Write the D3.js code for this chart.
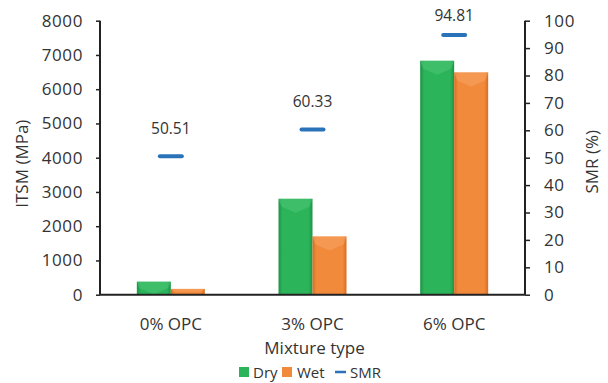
<!DOCTYPE html>
<html>
<head>
<meta charset="utf-8">
<script src="https://cdn.jsdelivr.net/npm/d3@7"></script>
<style>
  html, body { margin: 0; padding: 0; background: #fff; }
  svg { display: block; font-family: "Open Sans", "Liberation Sans", sans-serif; }
</style>
</head>
<body>
<svg id="chart" width="608" height="383"></svg>
<script>
const categories = ["0% OPC", "3% OPC", "6% OPC"];
const dryValues = [380, 2800, 6830];
const wetValues = [170, 1700, 6490];
const smrValues = [50.51, 60.33, 94.81];
const leftTicks = [0, 1000, 2000, 3000, 4000, 5000, 6000, 7000, 8000];
const rightTicks = [0, 10, 20, 30, 40, 50, 60, 70, 80, 90, 100];
const seriesNames = ["Dry", "Wet", "SMR"];

const W = 608, H = 383;
const margin = { top: 20.7, right: 83, bottom: 88.3, left: 100 };
const iw = W - margin.left - margin.right;
const ih = H - margin.top - margin.bottom;

const svg = d3.select("#chart");
const defs = svg.append("defs");

function barGradient(id, edge, mid) {
  const g = defs.append("linearGradient").attr("id", id)
    .attr("x1", "0%").attr("x2", "100%").attr("y1", "0%").attr("y2", "0%");
  g.append("stop").attr("offset", "0%").attr("stop-color", edge);
  g.append("stop").attr("offset", "12%").attr("stop-color", mid);
  g.append("stop").attr("offset", "88%").attr("stop-color", mid);
  g.append("stop").attr("offset", "100%").attr("stop-color", edge);
}
barGradient("gDry", "#1c9447", "#2cb45a");
barGradient("gWet", "#d86d24", "#f28a3c");

const g = svg.append("g").attr("transform", `translate(${margin.left},${margin.top})`);

const x0 = d3.scaleBand().domain(categories).range([0, iw])
  .paddingInner(0.52).paddingOuter(0.26);
const x1 = d3.scaleBand().domain(["Dry", "Wet"]).range([0, x0.bandwidth()]);
const yL = d3.scaleLinear().domain([0, 8000]).range([ih, 0]);
const yR = d3.scaleLinear().domain([0, 100]).range([ih, 0]);

const rows = categories.map((c, i) => ({ c, dry: dryValues[i], wet: wetValues[i], smr: smrValues[i] }));

const series = [
  { key: "Dry", vals: dryValues, fill: "url(#gDry)", top: "#4fc777" },
  { key: "Wet", vals: wetValues, fill: "url(#gWet)", top: "#f7a564" }
];

series.forEach(s => {
  const grp = g.append("g");
  categories.forEach((c, i) => {
    const bx = x0(c) + x1(s.key);
    const bw = x1.bandwidth();
    const by = yL(s.vals[i]);
    const bh = ih - by;
    grp.append("rect").attr("x", bx).attr("y", by).attr("width", bw).attr("height", bh)
      .attr("fill", s.fill);
    const bev = Math.min(8, bh / 2);
    const tip = by + bev + 6 > by + bh ? by + bev : by + bev + 6;
    grp.append("path")
      .attr("d", `M${bx},${by}L${bx + bw},${by}L${bx + bw - 3},${by + bev}L${bx + bw / 2},${tip}L${bx + 3},${by + bev}Z`)
      .attr("fill", s.top).attr("opacity", 0.55);
  });
});

// SMR dashes and labels
const dashW = 22;
rows.forEach(r => {
  const cx = x0(r.c) + x0.bandwidth() / 2;
  g.append("line")
    .attr("x1", cx - dashW / 2).attr("x2", cx + dashW / 2)
    .attr("y1", yR(r.smr)).attr("y2", yR(r.smr))
    .attr("stroke", "#2a73b8").attr("stroke-width", 4).attr("stroke-linecap", "round");
  g.append("text")
    .attr("x", cx).attr("y", Math.max(yR(r.smr) - 22, 0))
    .attr("text-anchor", "middle")
    .attr("font-size", 15.5).attr("fill", "#333")
    .text(r.smr.toFixed(2));
});

// Axes
const axisColor = "#222";
const leftAxis = g.append("g").call(d3.axisLeft(yL).tickValues(leftTicks).tickFormat(d3.format("d")).tickSize(4).tickPadding(13));
const rightAxis = g.append("g").attr("transform", `translate(${iw},0)`)
  .call(d3.axisRight(yR).tickValues(rightTicks).tickFormat(d3.format("d")).tickSize(5).tickPadding(14));
const bottomAxis = g.append("g").attr("transform", `translate(0,${ih})`)
  .call(d3.axisBottom(x0).tickSize(0).tickPadding(23));

[leftAxis, rightAxis, bottomAxis].forEach(a => {
  a.selectAll(".domain").attr("stroke", axisColor).attr("stroke-width", 2);
  a.selectAll(".tick line").attr("stroke", axisColor).attr("stroke-width", 1.5);
  a.selectAll("text").attr("fill", "#333").attr("font-family", "'Open Sans', sans-serif").attr("font-size", 17);
});
leftAxis.select(".domain").attr("d", `M0,${ih}V0`);
rightAxis.select(".domain").attr("d", `M0,${ih}V0`);
bottomAxis.select(".domain").attr("d", `M0,0H${iw}`);
leftAxis.selectAll("text").attr("letter-spacing", 0.6);
rightAxis.selectAll("text").attr("letter-spacing", 0.6);

// Axis titles
svg.append("text")
  .attr("transform", `translate(28,${margin.top + ih / 2 + 6}) rotate(-90)`)
  .attr("text-anchor", "middle").attr("font-size", 17).attr("fill", "#333")
  .text("ITSM (MPa)");
svg.append("text")
  .attr("transform", `translate(598,${margin.top + ih / 2 + 4}) rotate(-90)`)
  .attr("text-anchor", "middle").attr("font-size", 17).attr("fill", "#333")
  .text("SMR (%)");
svg.append("text")
  .attr("x", margin.left + iw / 2 + 2).attr("y", 354)
  .attr("text-anchor", "middle").attr("font-size", 17).attr("fill", "#333")
  .text("Mixture type");

// Legend
const legend = svg.append("g").attr("transform", "translate(239,378)");
const legItems = [
  { name: seriesNames[0], type: "rect", color: "#2cb45a", x: 0, tx: 14 },
  { name: seriesNames[1], type: "rect", color: "#f28a3c", x: 43, tx: 58 },
  { name: seriesNames[2], type: "line", color: "#2a73b8", x: 96, tx: 111 }
];
legItems.forEach(d => {
  if (d.type === "rect") {
    legend.append("rect").attr("x", d.x).attr("y", -11).attr("width", 10).attr("height", 10).attr("fill", d.color);
  } else {
    legend.append("line").attr("x1", d.x).attr("x2", d.x + 11).attr("y1", -6).attr("y2", -6)
      .attr("stroke", d.color).attr("stroke-width", 2.5);
  }
  legend.append("text").attr("x", d.tx).attr("y", 0)
    .attr("font-size", 15).attr("fill", "#333").text(d.name);
});
</script>
</body>
</html>
